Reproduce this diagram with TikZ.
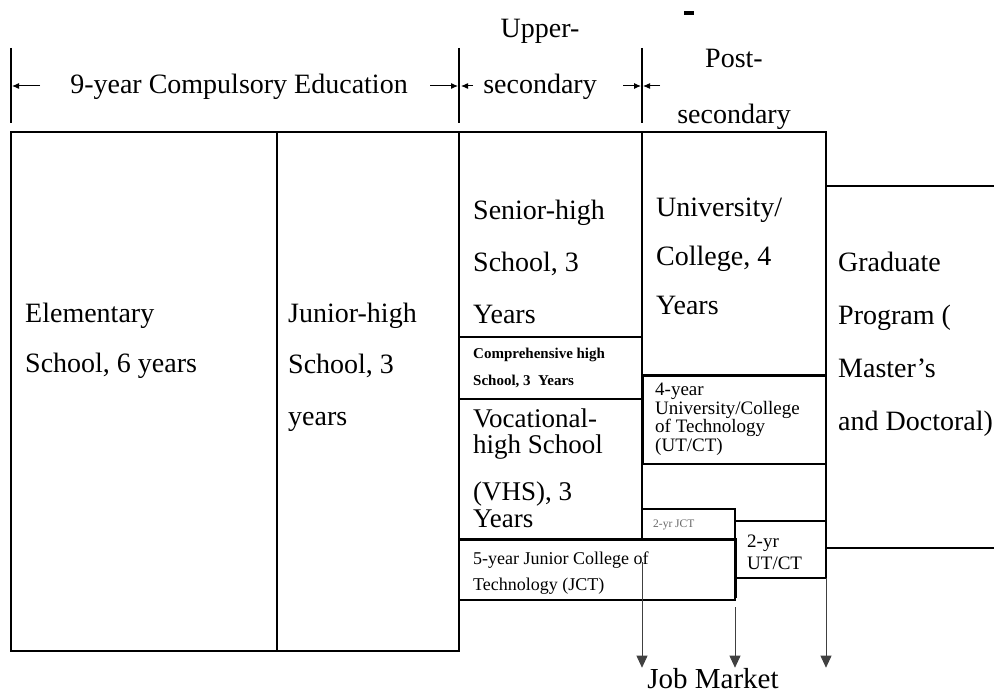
\documentclass[tikz,border=0pt]{standalone}
\usepackage{fontspec}
\setmainfont{Liberation Serif}
\usetikzlibrary{arrows.meta}
\begin{document}
\begin{tikzpicture}[x=1pt,y=-1pt,
box/.style={line width=1.5pt},
thickbox/.style={line width=3pt},
label/.style={anchor=base west,inner sep=0pt,align=left,font=\fontsize{28}{50}\selectfont},
stage/.style={anchor=base,inner sep=0pt,align=center,font=\fontsize{28}{56}\selectfont},
span/.style={-{Latex[length=7pt,width=6pt]},line width=1pt},
exit/.style={-{Triangle[length=12pt,width=11pt]},line width=0.8pt,black!75},
]
\useasboundingbox (0,0) rectangle (994,693);
% stages on top (multi-line nodes sit on their last line)
\coordinate (t1) at (11,86);
\coordinate (t2) at (459,86);
\coordinate (t3) at (642,86);
\draw[box] (11,48) -- (11,123) (459,48) -- (459,123) (642,48) -- (642,123);
\node[stage] (compulsory) at (239,93) {9-year Compulsory Education};
\node[stage] (upper) at (540,94) {Upper-\\secondary};
\node[stage,font=\fontsize{28}{55}\selectfont] (post) at (734,123) {Post-\\secondary};
\draw[span] ([xshift=29pt]t1) -- ([xshift=1pt]t1);
\draw[span] ([xshift=-29pt]t2) -- ([xshift=-1pt]t2);
\draw[span] ([xshift=14pt]t2) -- ([xshift=2pt]t2);
\draw[span] ([xshift=-19pt]t3) -- ([xshift=-1pt]t3);
\draw[span] ([xshift=18pt]t3) -- ([xshift=1pt]t3);
\fill (684,11) rectangle (694,15);
% boxes
\draw[box] (11,132) rectangle (277,651);
\draw[box] (277,132) rectangle (459,651);
\draw[box] (459,132) rectangle (642,337);
\draw[box] (459,337) rectangle (642,399);
\draw[box] (459,399) rectangle (642,539);
\draw[box] (459,539) rectangle (735,600);
\draw[box] (642,132) rectangle (826,375);
\draw[box] (642,375) rectangle (826,464);
\draw[box] (642,464) -- (642,509) (826,464) -- (826,521);
\draw[box] (642,509) rectangle (735,539);
\draw[box] (735,521) rectangle (826,578);
\draw[box] (826,186) -- (994,186) (826,548) -- (994,548);
\draw[thickbox] (459,539) -- (735,539) -- (735,598);
\draw[thickbox] (642,464) -- (642,375) -- (826,375);
% texts
\node[label] (elem) at (25,372) {Elementary\\School, 6 years};
\node[label,font=\fontsize{28}{51.5}\selectfont] (junior) at (288,425) {Junior-high\\School, 3\\years};
\node[label,font=\fontsize{28}{52}\selectfont] (senior) at (473,323) {Senior-high\\School, 3\\Years};
\node[label,font=\fontsize{15}{27}\selectfont\bfseries] (comp) at (473,385) {Comprehensive high\\School, 3\ \ Years};
\node[label,font=\fontsize{27}{26}\selectfont] (voc) at (473,527) {Vocational-\\high School\\[21pt](VHS), 3\\[1pt]Years};
\node[label,font=\fontsize{18}{26}\selectfont] (jct5) at (473,590) {5-year Junior College of\\Technology (JCT)};
\node[label,font=\fontsize{28}{49}\selectfont] (univ) at (656,314) {University/\\College, 4\\Years};
\node[label,font=\fontsize{19}{18.5}\selectfont] (utct4) at (655,451) {4-year\\University/College\\of Technology\\(UT/CT)};
\node[label,font=\fontsize{11.5}{12}\selectfont,black!60] (jct2) at (653,527) {2-yr JCT};
\node[label,font=\fontsize{19}{22}\selectfont] (utct2) at (747,569) {2-yr\\UT/CT};
\node[label,font=\fontsize{28}{52.7}\selectfont] (grad) at (838,430) {Graduate\\Program (\\Master’s\\and Doctoral)};
% job market
\node[stage,font=\fontsize{29}{30}\selectfont] (job) at (713,688) {Job Market};
\coordinate (e1) at (642,562);
\coordinate (e2) at (735,607);
\coordinate (e3) at (826,578);
\draw[exit] (e1) -- (e1 |- job.north);
\draw[exit] (e2) -- (e2 |- job.north);
\draw[exit] (e3) -- (e3 |- job.north);
\end{tikzpicture}
\end{document}
